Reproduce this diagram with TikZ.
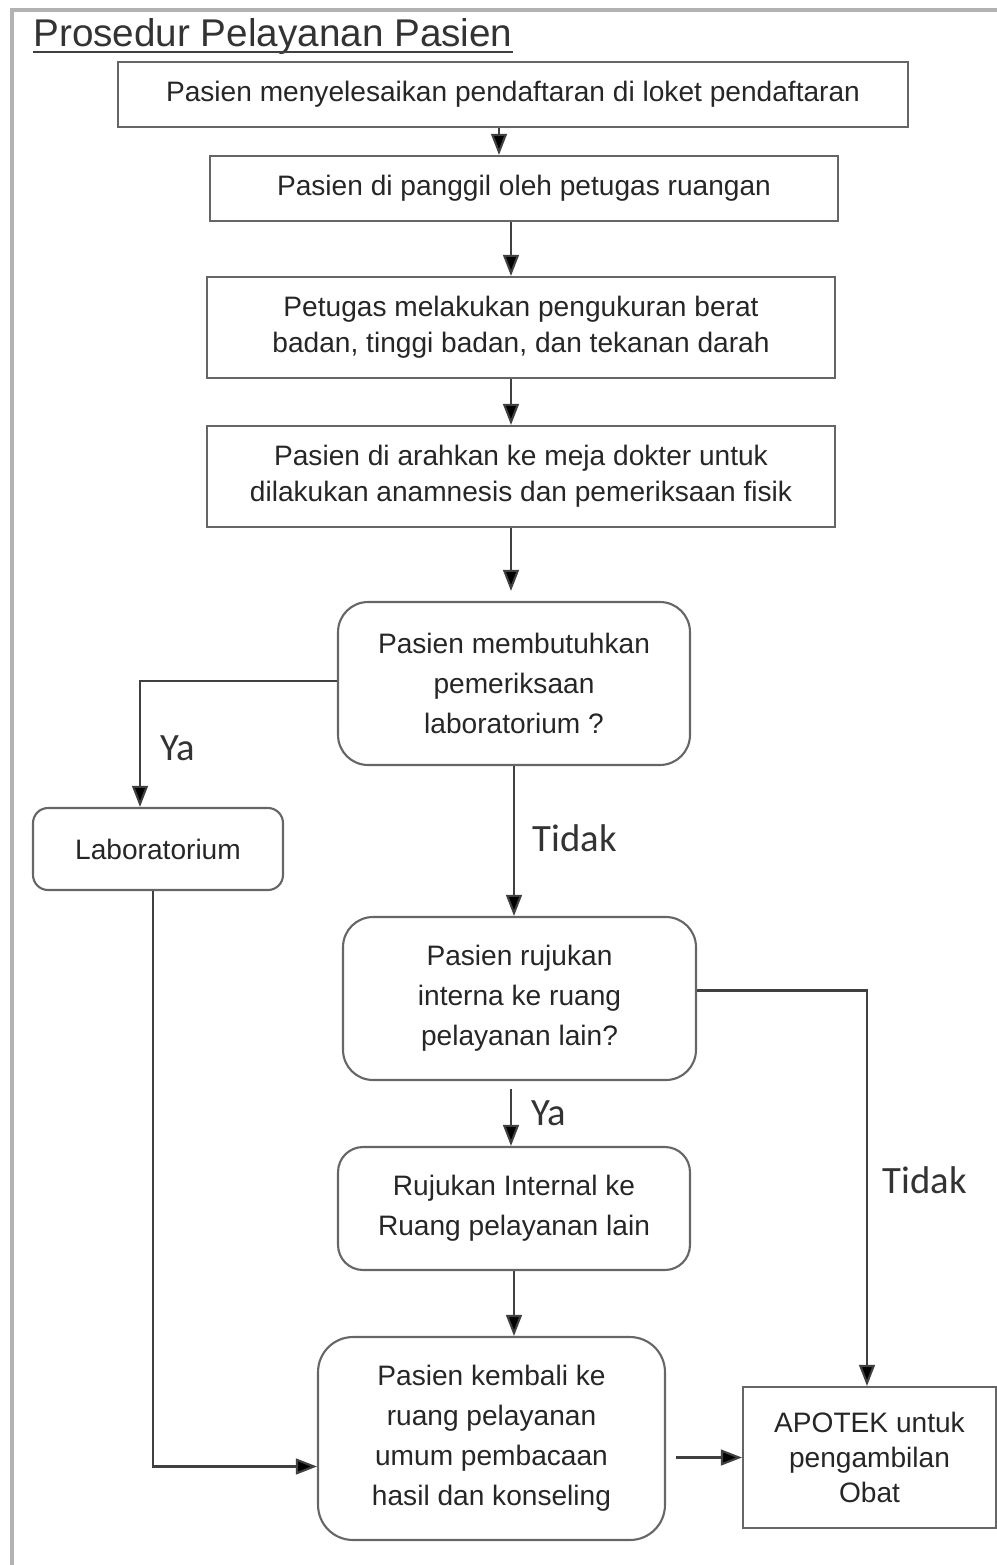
\documentclass[tikz,border=0pt]{standalone}
\usepackage{fontspec}
\setmainfont{Liberation Sans}
\newfontfamily\labelfont{Carlito}
\usetikzlibrary{arrows.meta}
\tikzset{
  stepbox/.style={draw=black!60, line width=1.2pt, align=center, text=black!85,
    inner sep=0pt, font=\fontsize{16}{20.5}\selectfont},
  roundbox/.style={stepbox, rounded corners=#1, font=\fontsize{16}{22.8}\selectfont},
  arr/.style={draw=black!75, line width=1.2pt, -{Triangle[length=12pt,width=9pt,fill=black]}},
  answer/.style={font=\labelfont\fontsize{22}{26}\selectfont, text=black!80},
  frame/.style={draw=black!30, line width=1.8pt}
}
\begin{document}
\begin{tikzpicture}[x=0.02cm,y=-0.02cm]
  \useasboundingbox (0,0) rectangle (997,1565);
  \draw[frame] (12,1565) -- (12,10) -- (997,10);
  \node[anchor=base west, inner sep=0pt, text=black!80, font=\fontsize{22}{26}\selectfont] (title) at (33,46)
    {Prosedur Pelayanan Pasien};
  \draw[black!75, line width=1.4pt] ([yshift=-0.12cm]title.base west) -- ([yshift=-0.12cm]title.base east);
  \draw
    (513,94.5) node[stepbox, minimum width=15.8cm, minimum height=1.3cm] (daftar)
      {Pasien menyelesaikan pendaftaran di loket pendaftaran}
    (524,188.5) node[stepbox, minimum width=12.56cm, minimum height=1.3cm] (panggil)
      {Pasien di panggil oleh petugas ruangan}
    (521,327.5) node[stepbox, minimum width=12.56cm, minimum height=2.02cm] (ukur)
      {Petugas melakukan pengukuran berat\\badan, tinggi badan, dan tekanan darah}
    (521,476.5) node[stepbox, minimum width=12.56cm, minimum height=2.02cm] (dokter)
      {Pasien di arahkan ke meja dokter untuk\\dilakukan anamnesis dan pemeriksaan fisik}
    (514,683.5) node[roundbox=0.6cm, minimum width=7.04cm, minimum height=3.26cm] (tanyalab)
      {Pasien membutuhkan\\pemeriksaan\\laboratorium ?}
    (158,849) node[roundbox=0.3cm, minimum width=5cm, minimum height=1.64cm] (lab)
      {Laboratorium}
    (519.5,998.5) node[roundbox=0.6cm, minimum width=7.06cm, minimum height=3.26cm] (tanyarujuk)
      {Pasien rujukan\\interna ke ruang\\pelayanan lain?}
    (514,1208.5) node[roundbox=0.5cm, minimum width=7.04cm, minimum height=2.46cm] (rujuk)
      {Rujukan Internal ke\\Ruang pelayanan lain}
    (491.5,1438.5) node[roundbox=0.7cm, minimum width=6.94cm, minimum height=4.06cm] (kembali)
      {Pasien kembali ke\\ruang pelayanan\\umum pembacaan\\hasil dan konseling}
    (869.5,1457.5) node[stepbox, minimum width=5.06cm, minimum height=2.82cm,
      font=\fontsize{16}{20}\selectfont] (apotek)
      {APOTEK untuk\\pengambilan\\Obat};
  \node[answer] (ya1) at (178,748) {Ya};
  \node[answer] (tidak1) at (575,838) {Tidak};
  \node[answer] (ya2) at (549,1113) {Ya};
  \node[answer] (tidak2) at (925,1180) {Tidak};
  \begin{scope}[arr]
    \draw ([xshift=-0.28cm]daftar.south) -- ([xshift=-0.28cm]daftar.south |- panggil.north);
    \draw ([xshift=-0.26cm]panggil.south) -- ([xshift=-0.26cm]panggil.south |- ukur.north);
    \draw ([xshift=-0.2cm]ukur.south) -- ([xshift=-0.2cm]ukur.south |- dokter.north);
    \draw ([xshift=-0.2cm]dokter.south) -- ([xshift=-0.2cm,yshift=0.2cm]dokter.south |- tanyalab.north);
    \draw ([yshift=0.05cm]tanyalab.west) -| ([xshift=-0.36cm]lab.north);
    \draw (tanyalab.south) -- (tanyalab.south |- tanyarujuk.north);
    \draw ([yshift=0.16cm]tanyarujuk.east) -| ([xshift=-0.05cm]apotek.north);
    \draw ([xshift=-0.17cm,yshift=-0.16cm]tanyarujuk.south) -- ([xshift=-0.17cm]tanyarujuk.south |- rujuk.north);
    \draw (rujuk.south) -- (rujuk.south |- kembali.north);
    \draw ([xshift=-0.1cm]lab.south) |- ([yshift=-0.56cm]kembali.west);
    \draw[shorten <=0.2cm] (kembali.east |- apotek.west) -- (apotek.west);
  \end{scope}
\end{tikzpicture}
\end{document}
